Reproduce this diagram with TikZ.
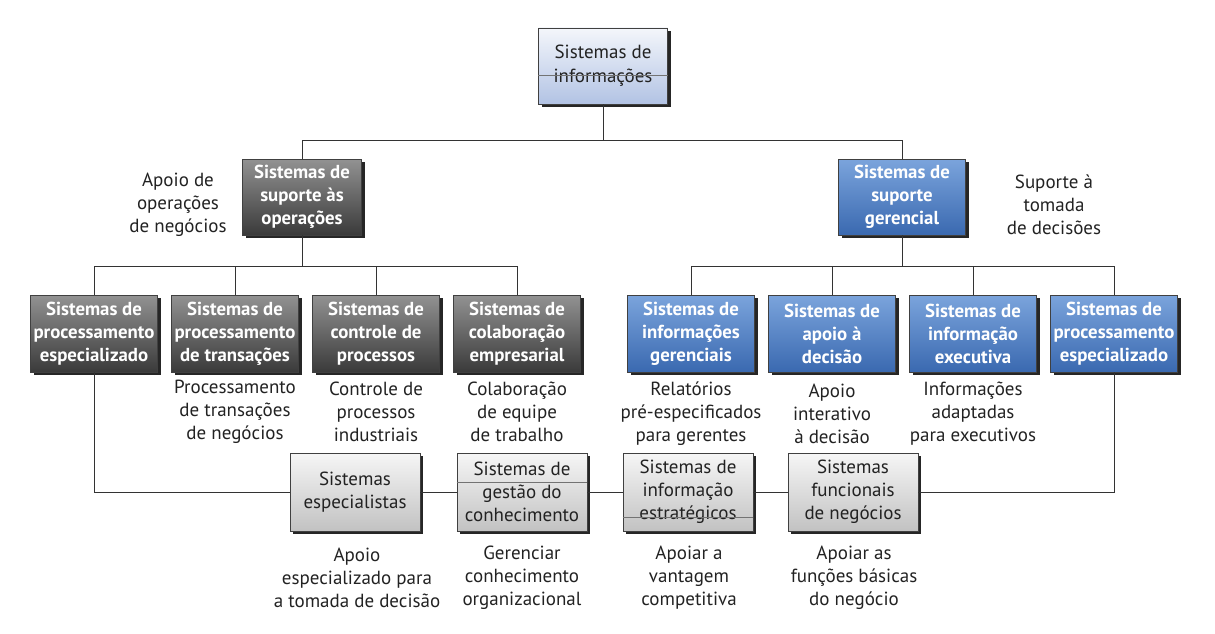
\documentclass[tikz,border=0pt]{standalone}
\usepackage{fontspec}
\setmainfont{PT Sans}
\usetikzlibrary{shadows}
\definecolor{txt}{HTML}{222222}
\definecolor{dktop}{HTML}{929292}
\definecolor{dkbot}{HTML}{3A3A3A}
\definecolor{bltop}{HTML}{7BA4DC}
\definecolor{blbot}{HTML}{3A69B0}
\definecolor{lbtop}{HTML}{F4F6FB}
\definecolor{lbbot}{HTML}{B2C3E4}
\definecolor{gytop}{HTML}{F6F6F6}
\definecolor{gybot}{HTML}{C2C2C2}
\tikzset{
  box/.style={rectangle, draw=black!75, line width=0.6pt, inner sep=1pt, align=center,
    minimum width=127pt, minimum height=77pt,
    drop shadow={shadow xshift=3pt, shadow yshift=-3pt, fill=black!85, opacity=1}},
  darkbox/.style={box, top color=dktop, bottom color=dkbot, text=white,
    font=\fontsize{18.8}{23}\selectfont\bfseries},
  bluebox/.style={box, top color=bltop, bottom color=blbot, text=white,
    font=\fontsize{18.8}{23}\selectfont\bfseries},
  lightbox/.style={box, top color=lbtop, bottom color=lbbot, text=txt,
    font=\fontsize{19}{24}\selectfont},
  graybox/.style={box, top color=gytop, bottom color=gybot, text=txt,
    font=\fontsize{19}{23}\selectfont, minimum width=130pt, minimum height=78pt},
  lbl/.style={align=center, text=txt, inner sep=0pt, font=\fontsize{19}{23}\selectfont},
  conn/.style={draw=black!80, line width=0.8pt},
  sep/.style={draw=black!55, line width=0.6pt}
}
\begin{document}
\begin{tikzpicture}[x=1pt,y=-1pt]
\useasboundingbox (0,0) rectangle (1215,634);
% top
\node[lightbox, minimum width=129pt, minimum height=76pt] (top) at (603,66) {Sistemas de\\informações};
% level 1
\node[darkbox, minimum width=119pt, minimum height=76pt] (ops) at (302,197) {Sistemas de\\suporte às\\operações};
\node[bluebox, minimum height=76pt] (ger) at (902,197) {Sistemas de\\suporte\\gerencial};
\node[lbl] (lops) at (178,205) {Apoio de\\operações\\de negócios};
\node[lbl] (lger) at (1054,205) {Suporte à\\tomada\\de decisões};
% level 2 dark
\node[darkbox] (d1) at (94,333.5) {Sistemas de\\processamento\\especializado};
\node[darkbox] (d2) at (235,333.5) {Sistemas de\\processamento\\de transações};
\node[darkbox] (d3) at (376,333.5) {Sistemas de\\controle de\\processos};
\node[darkbox] (d4) at (517,333.5) {Sistemas de\\colaboração\\empresarial};
% level 2 blue
\node[bluebox] (u1) at (691,333.5) {Sistemas de\\informações\\gerenciais};
\node[bluebox] (u2) at (832,333.5) {Sistemas de\\apoio à\\decisão};
\node[bluebox] (u3) at (973,333.5) {Sistemas de\\informação\\executiva};
\node[bluebox] (u4) at (1114,333.5) {Sistemas de\\processamento\\especializado};
% labels level 2
\node[lbl] (l2) at (235,412) {Processamento\\de transações\\de negócios};
\node[lbl] (l3) at (376,412) {Controle de\\processos\\industriais};
\node[lbl] (l4) at (517,412) {Colaboração\\de equipe\\de trabalho};
\node[lbl] (l5) at (691,414) {Relatórios\\pré-especificados\\para gerentes};
\node[lbl] (l6) at (832,414) {Apoio\\interativo\\à decisão};
\node[lbl] (l7) at (973,414) {Informações\\adaptadas\\para executivos};
% bottom row
\node[graybox] (b1) at (355,492) {Sistemas\\especialistas};
\node[graybox] (b2) at (522,492) {Sistemas de\\gestão do\\conhecimento};
\node[graybox] (b3) at (688,492) {Sistemas de\\informação\\estratégicos};
\node[graybox] (b4) at (853,492) {Sistemas\\funcionais\\de negócios};
\node[lbl] (m1) at (357,578) {Apoio\\especializado para\\a tomada de decisão};
\node[lbl] (m2) at (522,578) {Gerenciar\\conhecimento\\organizacional};
\node[lbl] (m3) at (689,578) {Apoiar a\\vantagem\\competitiva};
\node[lbl] (m4) at (854,578) {Apoiar as\\funções básicas\\do negócio};
% stray separator lines inside boxes
\draw[sep] ([yshift=-9pt]top.west) -- ([yshift=-9pt]top.east);
\draw[sep] ([yshift=10pt]b2.west) -- ([yshift=10pt]b2.east);
\draw[sep] ([yshift=-25pt]b3.west) -- ([yshift=-25pt]b3.east);
% connectors
\coordinate (bar1) at (0,140);
\coordinate (bar2) at (0,266);
\draw[conn] (top.south) -- (top.south |- bar1) -| (ops.north);
\draw[conn] (top.south) -- (top.south |- bar1) -| (ger.north);
\foreach \n in {d1,d2,d3,d4}{
  \draw[conn] (ops.south) -- (ops.south |- bar2) -| (\n.north);
}
\foreach \n in {u1,u2,u3,u4}{
  \draw[conn] (ger.south) -- (ger.south |- bar2) -| (\n.north);
}
\draw[conn] (d1.south) |- (b1.west);
\draw[conn] (b1.east) -- (b2.west);
\draw[conn] (b2.east) -- (b3.west);
\draw[conn] (b3.east) -- (b4.west);
\draw[conn] (b4.east) -| (u4.south);
\end{tikzpicture}
\end{document}
